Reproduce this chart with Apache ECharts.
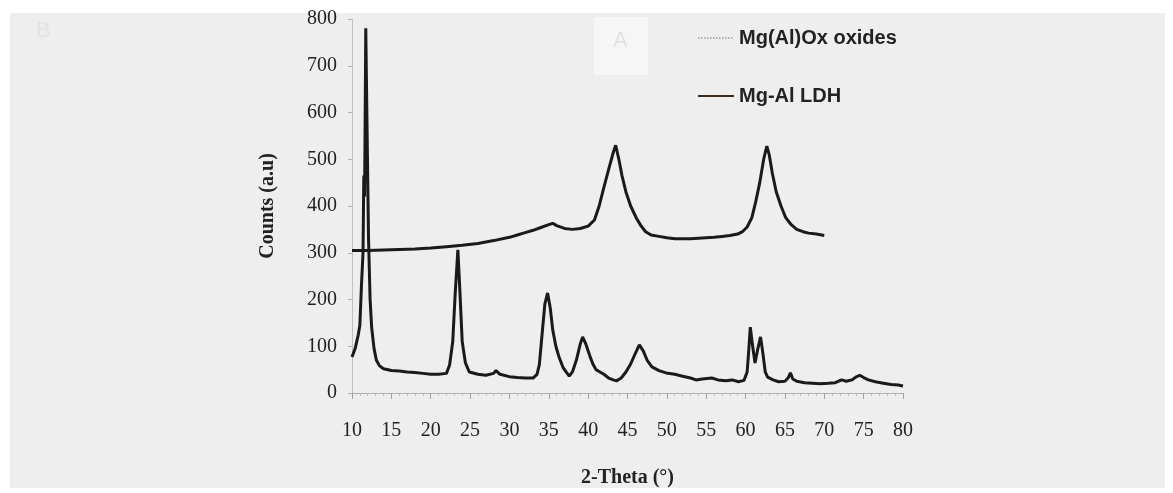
<!DOCTYPE html>
<html>
<head>
<meta charset="utf-8">
<script src="https://cdn.jsdelivr.net/npm/echarts@6/dist/echarts.min.js"></script>
<style>
  html, body { margin: 0; padding: 0; background: #fff; }
  #main { width: 1173px; height: 493px; }
</style>
</head>
<body>
<div id="main"></div>
<script>
// x axis ticks
const xTicks = [10, 15, 20, 25, 30, 35, 40, 45, 50, 55, 60, 65, 70, 75, 80];
const yTicks = [0, 100, 200, 300, 400, 500, 600, 700, 800];

// Mg(Al)Ox oxides (upper curve)
const oxTheta = [10, 12, 14, 16, 18, 20, 22, 24, 26, 28, 30, 31, 32, 33, 34, 35, 35.5, 36, 37, 38, 39, 40,
  40.8, 41.4, 42.0, 42.7, 43.2, 43.5, 43.9, 44.3, 44.8, 45.4, 46.1, 46.7, 47.3, 48, 49, 50, 51, 52, 53, 54,
  55, 56, 57, 58, 59, 59.6, 60.2, 60.8, 61.3, 61.8, 62.3, 62.7, 63.0, 63.4, 63.9, 64.5, 65.1, 65.8, 66.5,
  67.3, 68, 69, 70];
const oxCounts = [305, 305, 306, 307, 308, 310, 313, 316, 320, 326, 333, 338, 343, 348, 354, 360, 363, 358, 352, 350, 352, 357,
  370, 400, 440, 484, 515, 530, 500, 465, 430, 400, 375, 358, 345, 338, 335, 332, 330, 330, 330, 331,
  332, 333, 335, 337, 340, 345, 355, 375, 410, 450, 500, 528, 510, 470, 430, 400, 375, 360, 350,
  345, 342, 340, 337];

// Mg-Al LDH (lower curve)
const ldhTheta = [10.0, 10.4, 10.8, 11.0, 11.2, 11.4, 11.5, 11.6, 11.75, 11.95, 12.1, 12.3, 12.5, 12.8, 13.1, 13.5, 14.0,
  15, 16, 17, 18, 19, 20, 21, 22, 22.4, 22.8, 23.1, 23.45, 23.7, 24.0, 24.4, 24.9, 26, 27, 28, 28.3, 28.8,
  30, 31, 32, 33, 33.5, 33.8, 34.2, 34.5, 34.85, 35.2, 35.5, 35.9, 36.3, 36.8, 37.2, 37.6, 38.0, 38.5, 39.0,
  39.3, 39.7, 40.2, 40.6, 41.0, 41.5, 42.0, 42.6, 43.2, 43.6, 44.2, 44.8, 45.4, 46.0, 46.5, 47.0, 47.5, 48.1,
  49, 49.9, 51, 52, 53, 53.7, 54.5, 55.7, 56.5, 57.5, 58.3, 59.1, 59.8, 60.2, 60.4, 60.6, 60.9, 61.2, 61.5,
  61.9, 62.2, 62.5, 62.8, 63.5, 64.2, 65, 65.4, 65.7, 66.0, 66.5, 67.5, 68.5, 69.5, 70.5, 71.4, 72.2, 72.8,
  73.5, 74.0, 74.5, 75.0, 75.6, 76.5, 77.5, 78.5, 79.4, 80];
const ldhCounts = [77, 95, 125, 145, 230, 300, 465, 420, 780, 520, 330, 200, 140, 95, 70, 58, 52,
  48, 47, 45, 44, 42, 40, 40, 42, 60, 110, 210, 306, 220, 110, 65, 45, 40, 38, 42, 48, 40,
  35, 33, 32, 32, 40, 60, 135, 190, 214, 180, 135, 100, 77, 55, 45, 36, 45, 70, 105,
  120, 105, 80, 62, 50, 45, 40, 32, 28, 26, 32, 45, 62, 85, 103, 90, 70, 56,
  48, 43, 40, 36, 32, 28, 30, 32, 28, 26, 28, 24, 27, 45, 90, 141, 100, 64, 90,
  120, 85, 45, 34, 28, 24, 25, 32, 43, 30, 25, 22, 21, 20, 21, 22, 28, 25,
  28, 34, 38, 33, 28, 24, 21, 18, 17, 15];

const oxData = oxTheta.map((t, i) => [t, oxCounts[i]]);
const ldhData = ldhTheta.map((t, i) => [t, ldhCounts[i]]);

const chart = echarts.init(document.getElementById('main'));

chart.setOption({
  backgroundColor: '#ffffff',
  animation: false,
  // 背景面板
  graphic: [
    {
      type: 'rect', z: -10, silent: true,
      shape: { x: 10, y: 13, width: 1155, height: 475 },
      style: { fill: '#eeeeee' }
    },
    {
      type: 'rect', z: -9, silent: true,
      shape: { x: 594, y: 17, width: 54, height: 58 },
      style: { fill: '#f6f6f6' }
    },
    {
      type: 'text', z: -8, silent: true, left: 613, top: 30,
      style: { text: 'A', fill: '#e2e2e2', font: '22px "Liberation Sans"' }
    },
    {
      type: 'text', z: -8, silent: true, left: 36, top: 20,
      style: { text: 'B', fill: '#e2e2e2', font: '22px "Liberation Sans"' }
    }
  ],
  grid: {
    left: 352,
    right: 270,
    top: 19,
    bottom: 100
  },
  legend: {
    orient: 'vertical',
    left: 697,
    top: 28,
    padding: 0,
    itemGap: 38,
    itemWidth: 36,
    itemHeight: 12,
    itemStyle: { opacity: 0 },
    textStyle: {
      fontFamily: 'Liberation Sans',
      fontWeight: 'bold',
      fontSize: 20,
      color: '#222'
    },
    data: [
      { name: 'Mg(Al)Ox oxides', itemStyle: { opacity: 0 }, lineStyle: { type: 'dotted', color: '#9a9a9a', width: 1.5 } },
      { name: 'Mg-Al LDH', itemStyle: { opacity: 0 }, lineStyle: { type: 'solid', color: '#3a2a1e', width: 2 } }
    ]
  },
  xAxis: {
    type: 'value',
    min: 10,
    max: 80,
    interval: 5,
    name: '2-Theta (°)',
    nameLocation: 'middle',
    nameGap: 75,
    nameTextStyle: {
      fontFamily: 'Liberation Serif',
      fontWeight: 'bold',
      fontSize: 20,
      color: '#222'
    },
    axisLine: { show: true, lineStyle: { color: '#b0b0b0', width: 1 } },
    axisTick: { show: true, length: 6, lineStyle: { color: '#a0a0a0' } },
    minorTick: { show: true, splitNumber: 5, length: 3, lineStyle: { color: '#bbbbbb' } },
    splitLine: { show: false },
    axisLabel: {
      margin: 28,
      fontFamily: 'Liberation Serif',
      fontSize: 20,
      color: '#222'
    }
  },
  yAxis: {
    type: 'value',
    min: 0,
    max: 800,
    interval: 100,
    name: 'Counts (a.u)',
    nameLocation: 'middle',
    nameGap: 74,
    nameTextStyle: {
      fontFamily: 'Liberation Serif',
      fontWeight: 'bold',
      fontSize: 20,
      color: '#222',
      padding: [0, 0, 0, 0]
    },
    axisLine: { show: true, lineStyle: { color: '#c0c0c0', width: 1 } },
    axisTick: { show: true, length: 4, lineStyle: { color: '#b0b0b0' } },
    splitLine: { show: false },
    axisLabel: {
      margin: 15,
      fontFamily: 'Liberation Serif',
      fontSize: 20,
      color: '#222'
    }
  },
  series: [
    {
      name: 'Mg(Al)Ox oxides',
      type: 'line',
      data: oxData,
      symbol: 'none',
      itemStyle: { color: '#1a1a1a' },
      lineStyle: { color: '#1a1a1a', width: 3 }
    },
    {
      name: 'Mg-Al LDH',
      type: 'line',
      data: ldhData,
      symbol: 'none',
      itemStyle: { color: '#1a1a1a' },
      lineStyle: { color: '#1a1a1a', width: 3 }
    }
  ]
});
</script>
</body>
</html>
